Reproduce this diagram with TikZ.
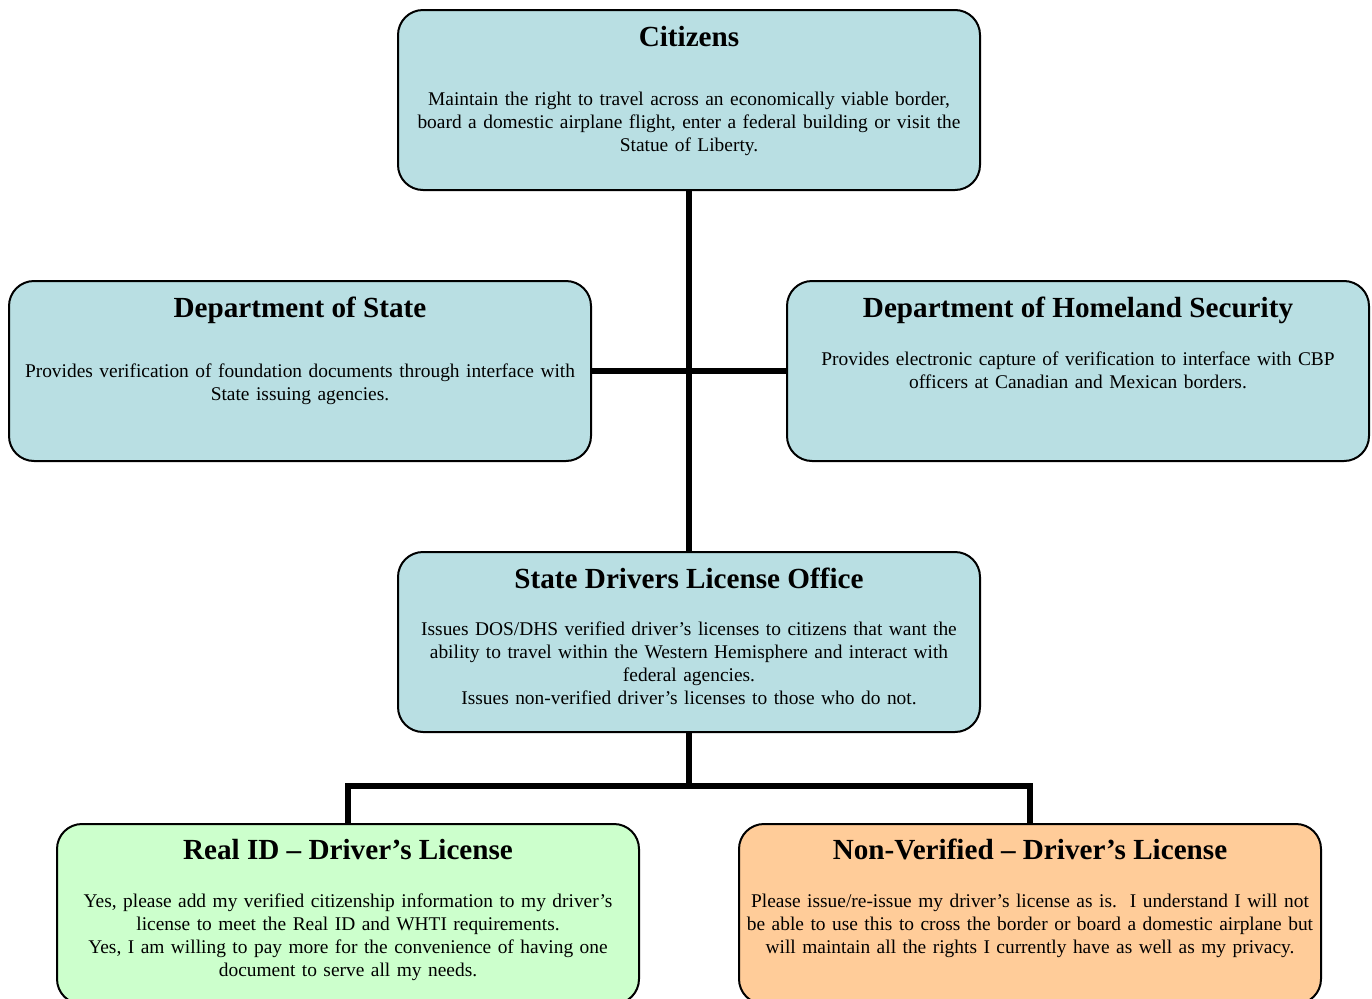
\documentclass[tikz,border=0pt]{standalone}
\usepackage{fontspec}
\setmainfont{Liberation Serif}
\usetikzlibrary{positioning}
\definecolor{boxblue}{HTML}{B9DFE3}
\definecolor{boxgreen}{HTML}{CCFFCC}
\definecolor{boxorange}{HTML}{FFCC99}
\hyphenpenalty=10000
\begin{document}
\begin{tikzpicture}[x=0.6pt,y=-0.6pt]
\tikzset{orgbox/.style={rectangle,rounded corners=15pt,draw,line width=1.2pt,minimum width=349.2pt,minimum height=108pt,fill=boxblue},
  boxhead/.style={font=\fontsize{17.5}{21}\selectfont\bfseries,inner sep=0pt,anchor=base},
  boxtext/.style={font=\fontsize{11.65}{13.8}\selectfont,text width=350pt,align=center,inner sep=0pt,anchor=base},
  link/.style={line width=3.4pt}}
\useasboundingbox (0,0) rectangle (1372,998);
\node[orgbox](cit) at (689,100){};
\node[orgbox](sdlo)[below=216pt of cit]{};
\coordinate[below=108pt of cit](mid);
\node[orgbox](dos)[left=58.2pt of mid]{};
\node[orgbox](dhs)[right=58.2pt of mid]{};
\coordinate[below=31.8pt of sdlo](fork);
\node[orgbox,fill=boxgreen](realid)[below left=22.2pt and 29.4pt of fork]{};
\node[orgbox,fill=boxorange](nonver)[below right=22.2pt and 29.4pt of fork]{};
% connectors
\draw[link](cit) -- (sdlo);
\draw[link](dos) -- (dhs);
\draw[link](sdlo) -- (fork);
\draw[link](realid) |- (fork) -| (nonver);
% texts
\node[boxhead](cit-h) at ([yshift=-22.2pt]cit.north){Citizens};
\node[boxtext](cit-b) at ([yshift=-57.6pt]cit.north){Maintain the right to travel across an economically viable border,\\ board a domestic airplane flight, enter a federal building or visit the\\ Statue of Liberty.};
\node[boxhead](dos-h) at ([yshift=-22.2pt]dos.north){Department of State};
\node[boxtext](dos-b) at ([yshift=-58.2pt]dos.north){Provides verification of foundation documents through interface with\\ State issuing agencies.};
\node[boxhead](dhs-h) at ([yshift=-22.2pt]dhs.north){Department of Homeland Security};
\node[boxtext](dhs-b) at ([yshift=-51pt]dhs.north){Provides electronic capture of verification to interface with CBP\\ officers at Canadian and Mexican borders.};
\node[boxhead](sdlo-h) at ([yshift=-22.2pt]sdlo.north){State Drivers License Office};
\node[boxtext](sdlo-b) at ([yshift=-50.4pt]sdlo.north){Issues DOS/DHS verified driver’s licenses to citizens that want the\\ ability to travel within the Western Hemisphere and interact with\\ federal agencies.\\ Issues non-verified driver’s licenses to those who do not.};
\node[boxhead](realid-h) at ([yshift=-21.6pt]realid.north){Real ID – Driver’s License};
\node[boxtext](realid-b) at ([yshift=-50.4pt]realid.north){Yes, please add my verified citizenship information to my driver’s\\ license to meet the Real ID and WHTI requirements.\\ Yes, I am willing to pay more for the convenience of having one\\ document to serve all my needs.};
\node[boxhead](nonver-h) at ([yshift=-21.6pt]nonver.north){Non-Verified – Driver’s License};
\node[boxtext](nonver-b) at ([yshift=-50.4pt]nonver.north){Please issue/re-issue my driver’s license as is.\ \ I understand I will not\\ be able to use this to cross the border or board a domestic airplane but\\ will maintain all the rights I currently have as well as my privacy.};
\end{tikzpicture}
\end{document}
